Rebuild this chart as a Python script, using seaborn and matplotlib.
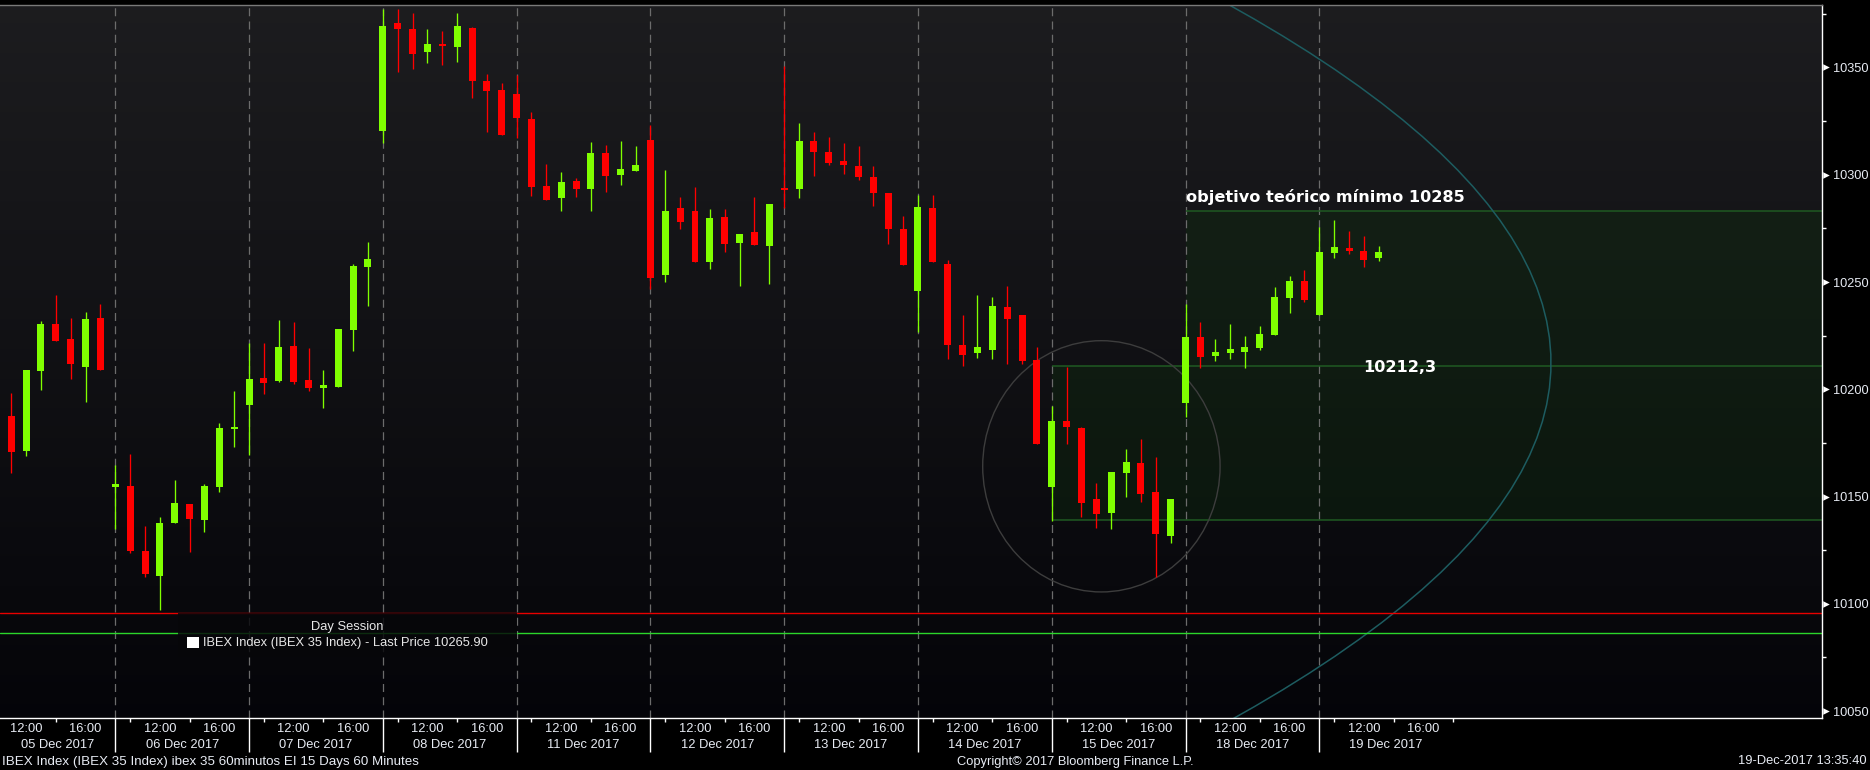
import numpy as np
import matplotlib
matplotlib.use("Agg")
import matplotlib.pyplot as plt
import matplotlib.transforms as mtransforms
from matplotlib.patches import Rectangle, Ellipse, PathPatch
from matplotlib.path import Path
import seaborn as sns

# ---------------- data ----------------
day_labels = ["05 Dec 2017", "06 Dec 2017", "07 Dec 2017", "08 Dec 2017", "11 Dec 2017",
              "12 Dec 2017", "13 Dec 2017", "14 Dec 2017", "15 Dec 2017", "18 Dec 2017",
              "19 Dec 2017"]
hour_labels = {3: "12:00", 7: "16:00"}      # slot within session (09:00 = slot 0)
bars_per_day = 9                             # 09:00 .. 17:00
first_slot = 2                               # first visible bar: 05 Dec 11:00

opens = [10187.4, 10171.4, 10208.7, 10230.3, 10223.4, 10210.6, 10233.2,
         10154.6, 10155.0, 10124.8, 10113.2, 10137.8, 10146.5, 10139.3, 10154.6, 10181.6,
         10192.5, 10205.2, 10204.0, 10220.1, 10204.2, 10200.4, 10201.1, 10227.4, 10257.2,
         10320.2, 10370.8, 10367.9, 10357.2, 10360.9, 10359.6, 10368.3, 10343.7, 10339.5,
         10337.5, 10325.9, 10294.7, 10289.1, 10297.0, 10293.3, 10310.1, 10300.1, 10301.6,
         10316.1, 10253.3, 10284.4, 10283.1, 10259.1, 10280.4, 10268.4, 10273.2, 10266.8,
         10293.5, 10293.3, 10315.7, 10310.5, 10306.4, 10304.1, 10298.9, 10291.4, 10274.8,
         10245.8, 10284.4, 10258.3, 10220.7, 10216.8, 10218.3, 10238.2, 10234.6, 10213.7,
         10154.6, 10185.1, 10182.0, 10148.8, 10142.2, 10161.1, 10165.6, 10152.1, 10131.8,
         10193.8, 10224.4, 10215.7, 10217.1, 10217.4, 10219.2, 10225.4, 10242.7, 10250.5,
         10234.8, 10263.7, 10265.8, 10264.4, 10261.3]
highs = [10198.2, 10208.9, 10231.7, 10243.8, 10233.2, 10235.9, 10239.8,
         10164.8, 10169.8, 10136.2, 10140.3, 10157.7, 10146.5, 10155.7, 10184.3, 10199.2,
         10221.8, 10221.4, 10232.2, 10231.3, 10219.3, 10208.9, 10228.0, 10258.3, 10268.6,
         10377.1, 10377.1, 10375.4, 10367.9, 10366.9, 10375.4, 10368.8, 10346.8, 10342.8,
         10346.4, 10329.2, 10304.9, 10301.2, 10298.3, 10315.1, 10313.8, 10315.7, 10313.4,
         10323.1, 10302.2, 10289.6, 10294.3, 10284.0, 10284.0, 10272.4, 10289.6, 10286.3,
         10350.7, 10324.0, 10320.0, 10317.6, 10314.7, 10313.4, 10304.1, 10291.4, 10280.8,
         10290.6, 10290.6, 10260.1, 10234.6, 10243.8, 10243.1, 10248.1, 10234.6, 10219.5,
         10192.3, 10210.4, 10182.4, 10156.3, 10161.3, 10172.2, 10176.8, 10168.5, 10148.8,
         10239.8, 10231.4, 10223.4, 10230.4, 10224.8, 10229.5, 10247.7, 10252.8, 10255.6,
         10275.6, 10278.9, 10273.8, 10271.4, 10266.8]
lows = [10161.2, 10168.7, 10199.8, 10222.6, 10205.0, 10194.2, 10209.1,
        10135.1, 10123.5, 10112.3, 10097.2, 10137.8, 10124.2, 10133.7, 10151.9, 10173.3,
        10169.5, 10197.9, 10203.5, 10202.5, 10199.2, 10191.5, 10201.1, 10217.8, 10239.0,
        10314.9, 10348.0, 10349.3, 10352.0, 10351.1, 10352.4, 10335.8, 10320.0, 10318.6,
        10316.9, 10290.0, 10288.3, 10283.1, 10289.6, 10283.1, 10291.9, 10295.2, 10301.6,
        10246.7, 10250.0, 10274.9, 10259.1, 10256.2, 10264.1, 10248.3, 10267.4, 10249.2,
        10284.4, 10289.0, 10299.3, 10304.3, 10300.4, 10297.5, 10285.2, 10267.6, 10257.9,
        10226.8, 10259.3, 10213.9, 10210.8, 10214.5, 10214.1, 10211.8, 10211.8, 10174.5,
        10138.4, 10174.5, 10140.5, 10135.5, 10134.9, 10149.9, 10147.6, 10112.7, 10128.5,
        10187.2, 10210.1, 10213.3, 10214.1, 10210.1, 10218.3, 10225.4, 10235.5, 10240.8,
        10234.8, 10261.3, 10263.2, 10257.0, 10259.8]
closes = [10171.0, 10208.9, 10230.3, 10222.6, 10211.6, 10232.6, 10209.1,
          10155.7, 10124.8, 10113.8, 10137.6, 10147.0, 10139.5, 10155.0, 10182.0, 10182.4,
          10204.8, 10203.1, 10219.7, 10203.5, 10200.8, 10201.9, 10228.0, 10257.4, 10260.7,
          10369.2, 10367.9, 10356.3, 10360.9, 10360.1, 10369.2, 10343.7, 10339.1, 10318.6,
          10326.3, 10294.3, 10288.3, 10296.8, 10293.3, 10310.1, 10299.3, 10302.6, 10304.5,
          10251.8, 10283.1, 10277.8, 10259.1, 10279.8, 10267.6, 10272.4, 10267.4, 10286.3,
          10292.9, 10315.7, 10310.5, 10305.5, 10304.3, 10298.9, 10291.4, 10274.9, 10257.9,
          10285.0, 10259.3, 10220.7, 10216.0, 10219.7, 10238.8, 10232.6, 10213.1, 10174.5,
          10185.1, 10182.2, 10147.0, 10142.0, 10161.3, 10166.2, 10151.3, 10132.7, 10148.8,
          10224.3, 10215.0, 10217.4, 10218.8, 10219.7, 10225.8, 10243.0, 10250.5, 10241.8,
          10264.0, 10266.3, 10264.6, 10260.4, 10264.0]

red_level = 10095.6
green_level = 10086.3
target_top = 10283.0
target_mid = 10211.0
target_bottom = 10139.0
yticks = [10050, 10100, 10150, 10200, 10250, 10300, 10350]
ytick_labels = ["10050", "10100", "10150", "10200", "10250", "10300", "10350"]

title_text = "objetivo teórico mínimo 10285"
mid_text = "10212,3"
legend_title = "Day Session"
legend_text = "IBEX Index (IBEX 35 Index) - Last Price 10265.90"
caption_left = "IBEX Index (IBEX 35 Index) ibex 35 60minutos EI 15 Days 60 Minutes"
caption_mid = "Copyright\u00a9 2017 Bloomberg Finance L.P."
caption_right = "19-Dec-2017 13:35:40"

# ---------------- style ----------------
sns.set_theme(style="dark", rc={"axes.facecolor": "#101013", "figure.facecolor": "black",
                                "axes.grid": False})
plt.rcParams["font.family"] = ["Liberation Sans", "DejaVu Sans"]

W, H = 1870, 770
fig = plt.figure(figsize=(W / 100, H / 100), dpi=100, facecolor="black")
ax_left, ax_right_px, ax_top_px, ax_bot_px = 0, 1822, 5, 718
ax = fig.add_axes([0, 1 - ax_bot_px / H, ax_right_px / W, (ax_bot_px - ax_top_px) / H])

xmin, xmax = 1.243, 123.82
ymin, ymax = 10046.8, 10379.1
ax.set_xlim(xmin, xmax)
ax.set_ylim(ymin, ymax)

# background gradient
grad = np.linspace(1, 0, 256).reshape(-1, 1)
top_c = np.array([0.112, 0.112, 0.122])
bot_c = np.array([0.018, 0.018, 0.035])
img = bot_c + (top_c - bot_c) * grad[..., None]
ax.imshow(img, extent=[xmin, xmax, ymin, ymax], aspect="auto", zorder=0,
          interpolation="bilinear")

n = len(opens)
xs = np.arange(n) + first_slot
o = np.array(opens); h = np.array(highs); l = np.array(lows); c = np.array(closes)
up = c >= o

# target zones
ax.add_patch(Rectangle((9 * 8, target_bottom), xmax - 72, target_mid - target_bottom,
                       facecolor=(0.05, 0.22, 0.05), alpha=0.28, edgecolor="none", zorder=1))
ax.add_patch(Rectangle((9 * 9, target_mid), xmax - 81, target_top - target_mid,
                       facecolor=(0.05, 0.22, 0.05), alpha=0.28, edgecolor="none", zorder=1))
lvl_col = "#1f5a22"
ax.hlines(target_top, 81, xmax, color=lvl_col, lw=1.1, zorder=1.5)
ax.hlines(target_mid, 72, xmax, color=lvl_col, lw=1.1, zorder=1.5)
ax.hlines(target_bottom, 72, xmax, color=lvl_col, lw=1.1, zorder=1.5)

# day separators (dashed)
day_starts = [9 * d for d in range(len(day_labels))]
for ds in day_starts:
    if xmin < ds < xmax:
        ax.axvline(ds, color="#6c6c6c", lw=0.9, ls=(0, (6.4, 4.2)), zorder=1.2)

# horizontal red / green lines via seaborn
sns.lineplot(x=[xmin, xmax], y=[red_level, red_level], color="#e80000", lw=1.0, ax=ax,
             zorder=2.5, legend=False)
sns.lineplot(x=[xmin, xmax], y=[green_level, green_level], color="#2bd62b", lw=1.0, ax=ax,
             zorder=2.5, legend=False)
ax.set_xlim(xmin, xmax)
ax.set_ylim(ymin, ymax)

# circle and parabola annotations
ax.add_patch(Ellipse((75.34, 10164.1), 15.97, 117.1, fill=False, edgecolor="#3d3d3d",
                     lw=1.0, zorder=2))
vx, vy, hh, x_end = 105.59, 10212.3, 250.0, 56.99
parab = Path([(x_end, vy - hh), (2 * vx - x_end, vy), (x_end, vy + hh)],
             [Path.MOVETO, Path.CURVE3, Path.CURVE3])
ax.add_patch(PathPatch(parab, fill=False, edgecolor="#1d5c60", lw=1.1, zorder=2))

# candles
green_c, red_c = "#80ff00", "#ff0000"
colors = np.where(up, green_c, red_c)
ax.vlines(xs, l, h, colors=colors, lw=0.95, zorder=3)
body_lo = np.minimum(o, c)
body_h = np.maximum(np.abs(c - o), 0.8)
ax.bar(xs, body_h, bottom=body_lo, width=0.47, color=colors, edgecolor="none",
       zorder=3.5)

# legend box
ax.add_patch(Rectangle((178.3 / W, 1 - 656.7 / H), (516.7 - 178.3) / W, 44 / H,
                       transform=fig.transFigure, facecolor="#060609", alpha=0.82,
                       edgecolor="none", zorder=4))
fig.add_artist(Rectangle((187.3 / W, 1 - 647.7 / H), 11.7 / W, 10.4 / H,
                         transform=fig.transFigure, facecolor="white", edgecolor="none"))
fig.text(347.3 / W, 1 - 626.7 / H, legend_title, color="#e8e8e8", fontsize=9.3,
         ha="center", va="center")
fig.text(203.3 / W, 1 - 643.3 / H, legend_text, color="#e8e8e8", fontsize=9.3,
         ha="left", va="center")

# annotation texts
ax.text(81, 10289.7, title_text, color="white", fontsize=11.6, fontweight="bold",
        family=["DejaVu Sans"], ha="left", va="center", zorder=5)
ax.text(92.92, 10210.3, mid_text, color="white", fontsize=11.6, fontweight="bold",
        family=["DejaVu Sans"], ha="left", va="center", zorder=5)

# spines
ax.spines["left"].set_visible(False)
ax.spines["right"].set_color("white"); ax.spines["right"].set_linewidth(1.0)
ax.spines["bottom"].set_color("white"); ax.spines["bottom"].set_linewidth(1.0)
ax.spines["top"].set_color("#7a7a7a"); ax.spines["top"].set_linewidth(1.0)
for s in ax.spines.values():
    s.set_zorder(6)

# y axis on right
ax.yaxis.tick_right()
ax.set_yticks(yticks)
ax.set_yticklabels(ytick_labels)
ax.set_yticks([v + 25 for v in yticks], minor=True)
ax.tick_params(axis="y", which="major", length=0, pad=8.2, labelsize=9.2,
               labelcolor="#e8ecf4")
ax.tick_params(axis="y", which="minor", length=2.6, width=1.0, color="white", direction="out")
ytrans = mtransforms.blended_transform_factory(ax.transAxes, ax.transData)
ax.scatter([1 + 4.2 / 1822] * len(yticks), yticks, marker=">", s=22, color="white",
           transform=ytrans, clip_on=False, zorder=7, linewidths=0)

# x axis custom
ax.set_xticks([]); ax.set_xticks([], minor=True)
ax.set_xlabel(""); ax.set_ylabel("")
xtrans = mtransforms.blended_transform_factory(ax.transData, ax.transAxes)
ax_h = ax_bot_px - ax_top_px
def ay(py):
    return (ax_bot_px - py) / ax_h

minor_x = []
for ds in day_starts:
    minor_x += [ds + 1, ds + 5]
minor_x.append(9 * len(day_labels))
minor_x = [m for m in minor_x if xmin < m < xmax]
ax.vlines(minor_x, ay(721.5), 0, colors="white", lw=1.0, transform=xtrans, clip_on=False)
seps = [ds for ds in day_starts if xmin < ds < xmax]
ax.vlines(seps, ay(752), 0, colors="white", lw=1.0, transform=xtrans, clip_on=False)

for d, ds in enumerate(day_starts):
    for slot, lab in hour_labels.items():
        xx = ds + slot
        if xmin < xx < xmax:
            ax.text(xx, ay(728.5), lab, transform=xtrans, color="#e8ecf4", fontsize=9.3,
                    ha="center", va="center", clip_on=False)
    left = max(ds, xmin)
    ax.text((left + ds + 9) / 2, ay(744.5),
            day_labels[d], transform=xtrans, color="#e8ecf4", fontsize=9.3,
            ha="center", va="center", clip_on=False)

# bottom captions
fig.text(2 / W, 1 - 761.5 / H, caption_left, color="#e8ecf4", fontsize=9.6, ha="left",
         va="center")
fig.text(1075 / W, 1 - 761.5 / H, caption_mid, color="#e8ecf4", fontsize=9.3,
         ha="center", va="center")
fig.text(1867 / W, 1 - 761.5 / H, caption_right, color="#e8ecf4", fontsize=9.3,
         ha="right", va="center")

fig.savefig("out.png", dpi=100, facecolor="black")
